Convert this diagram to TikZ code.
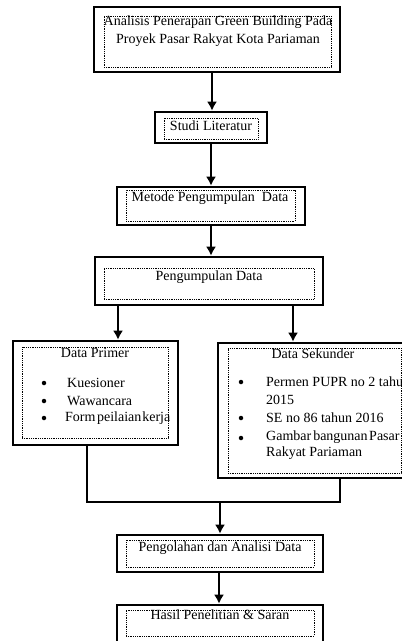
\documentclass[tikz,border=0pt]{standalone}
\usepackage{fontspec}
\setmainfont{Liberation Serif}
\usetikzlibrary{arrows.meta}
\begin{document}
\begin{tikzpicture}[x=1pt,y=-1pt,
  outerbox/.style={draw,line width=2.6pt,inner sep=0pt},
  innerbox/.style={draw,densely dotted,line width=0.8pt,inner sep=0pt},
  txt/.style={inner sep=0pt,font=\fontsize{14}{16}\selectfont},
  bul/.style={circle,fill,inner sep=0pt,minimum size=4.5pt},
  conn/.style={line width=2pt},
  arr/.style={line width=2pt,-{Latex[width=10pt,length=9pt]}}]
\clip (0,0) rectangle (402,641);
\fill[white] (0,0) rectangle (402,641);
% Box 1
\node[outerbox,minimum width=246pt,minimum height=65pt] (o1) at (217,39.5) {};
\node[innerbox,minimum width=227pt,minimum height=51pt] (i1) at (217.5,41.5) {};
\node[txt] (t1a) at (218,22) {Analisis Penerapan Green Building Pada};
\node[txt] (t1b) at (218,40) {Proyek Pasar Rakyat Kota Pariaman};
% Box 2
\node[outerbox,minimum width=112pt,minimum height=31pt] (o2) at (211,127.5) {};
\node[innerbox,minimum width=94pt,minimum height=21pt] (i2) at (211,128.5) {};
\node[txt] (t2) at (211,126) {Studi Literatur};
% Box 3
\node[outerbox,minimum width=188pt,minimum height=38pt] (o3) at (211,206) {};
\node[innerbox,minimum width=169pt,minimum height=31pt] (i3) at (210.5,205.5) {};
\node[txt] (t3) at (210,198) {Metode Pengumpulan\ \ Data};
% Box 4
\node[outerbox,minimum width=228pt,minimum height=48pt] (o4) at (209,281) {};
\node[innerbox,minimum width=210pt,minimum height=31pt] (i4) at (209,283.5) {};
\node[txt] (t4) at (209,277) {Pengumpulan Data};
% Left box
\node[outerbox,minimum width=165pt,minimum height=104pt] (oL) at (95.5,393) {};
\node[innerbox,minimum width=146pt,minimum height=91pt] (iL) at (95,392.5) {};
\node[txt] (tL) at (95,353) {Data Primer};
\node[bul] (bL1) at (44,383) {};
\node[bul] (bL2) at (44,401) {};
\node[bul] (bL3) at (44,418) {};
\node[txt,anchor=west] (xL1) at (67,383) {Kuesioner};
\node[txt,anchor=west] (xL2) at (67,401) {Wawancara};
\node[txt,anchor=west] (xL3) at (65,418) {Form\hspace{1.5pt}peilaian\hspace{1pt}kerja};
% Right box
\node[outerbox,minimum width=194pt,minimum height=135pt] (oR) at (315,410.5) {};
\node[innerbox,minimum width=173pt,minimum height=125pt] (iR) at (314.5,410.5) {};
\node[txt] (tR) at (313,354) {Data Sekunder};
\node[bul] (bR1) at (241,382) {};
\node[bul] (bR2) at (241,418) {};
\node[bul] (bR3) at (241,438) {};
\node[txt,anchor=west] (xR1) at (266,382) {Permen PUPR no 2 tahun};
\node[txt,anchor=west] (xR1b) at (266,400) {2015};
\node[txt,anchor=west] (xR2) at (266,418) {SE no 86 tahun 2016};
\node[txt,anchor=west] (xR3) at (266,437) {Gambar\hspace{2pt}bangunan\hspace{1.5pt}Pasar};
\node[txt,anchor=west] (xR3b) at (266,453) {Rakyat Pariaman};
% Box 5
\node[outerbox,minimum width=206pt,minimum height=37pt] (o5) at (220,553.5) {};
\node[innerbox,minimum width=188pt,minimum height=27pt] (i5) at (220,553.5) {};
\node[txt] (t5) at (220,548) {Pengolahan dan Analisi Data};
% Box 6
\node[outerbox,minimum width=206pt,minimum height=46pt] (o6) at (220,628) {};
\node[innerbox,minimum width=188pt,minimum height=26pt] (i6) at (220,623) {};
\node[txt] (t6) at (220,615) {Hasil Penelitian \& Saran};
% connectors
\coordinate (j) at (220,502);
\draw[arr] (o1.south -| 212,0) -- (o2.north -| 212,0);
\draw[arr] (o2.south -| 211,0) -- (o3.north -| 211,0);
\draw[arr] (o3.south -| 211,0) -- (o4.north -| 211,0);
\draw[arr] (o4.south -| 118,0) -- (oL.north -| 118,0);
\draw[arr] (o4.south -| 293,0) -- (oR.north -| 293,0);
\draw[conn,line join=miter] (oL.south -| 87,0) -- (87,502) -- (340,502) -- (oR.south -| 340,0);
\draw[arr] (j) -- (o5.north -| j);
\draw[arr] (o5.south -| 219,0) -- (o6.north -| 219,0);
\end{tikzpicture}
\end{document}
